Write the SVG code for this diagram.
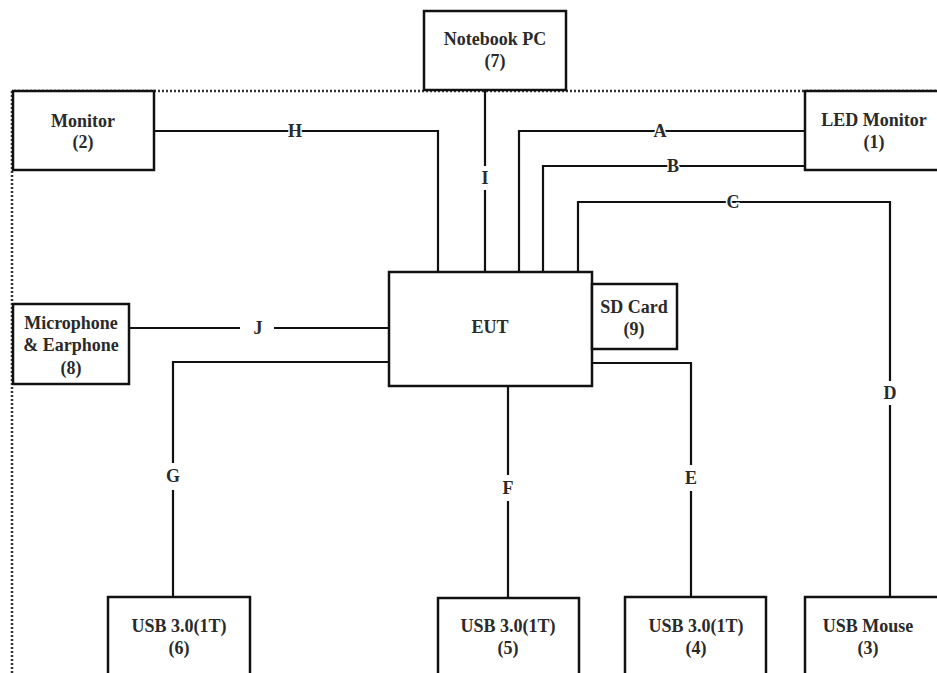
<svg xmlns="http://www.w3.org/2000/svg" width="937" height="673" viewBox="0 0 937 673">
<style>
.box{fill:#fff;stroke:#111;stroke-width:2.5}
.ln{fill:none;stroke:#111;stroke-width:2.2}
.t{font-family:"Liberation Serif","Times New Roman",serif;font-size:18px;font-weight:bold;fill:#2a2a2a;text-anchor:middle}
.lb{font-family:"Liberation Serif","Times New Roman",serif;font-size:18px;font-weight:bold;fill:#2a2a2a;text-anchor:middle;paint-order:stroke;stroke:#fff;stroke-width:3}
.dot{fill:none;stroke:#333;stroke-width:2.5;stroke-dasharray:2 2}
</style>
<rect width="937" height="673" fill="#fff"/>
<g id="border">
<path class="dot" d="M12,673 V91 H937"/>
</g>
<g id="connectors">
<path class="ln" d="M154,131 H438 V272"/>
<path class="ln" d="M485,90 V166 M485,190 V272"/>
<path class="ln" d="M805,131 H519 V272"/>
<path class="ln" d="M805,166 H543 V272"/>
<path class="ln" d="M578,272 V202 H890 V381 M890,405 V597"/>
<path class="ln" d="M129,328 H240 M274,328 H389"/>
<path class="ln" d="M389,362 H173 V463 M173,490 V597"/>
<path class="ln" d="M508,386 V475 M508,501 V598"/>
<path class="ln" d="M592,363 H691 V465 M691,491 V597"/>
<text class="lb" x="295" y="137">H</text>
<text class="lb" x="485" y="184">I</text>
<text class="lb" x="660" y="137">A</text>
<text class="lb" x="673" y="172">B</text>
<text class="lb" x="733" y="208">C</text>
<text class="lb" x="890" y="399">D</text>
<text class="lb" x="258" y="334">J</text>
<text class="lb" x="173" y="482">G</text>
<text class="lb" x="508" y="494">F</text>
<text class="lb" x="691" y="484">E</text>
</g>
<g id="notebook">
<rect class="box" x="424" y="11" width="142" height="79"/>
<text class="t" x="495" y="45">Notebook PC</text>
<text class="t" x="495" y="67">(7)</text>
</g>
<g id="monitor">
<rect class="box" x="13" y="91" width="141" height="79"/>
<text class="t" x="83" y="127">Monitor</text>
<text class="t" x="83" y="148">(2)</text>
</g>
<g id="led-monitor">
<rect class="box" x="805" y="91" width="140" height="79"/>
<text class="t" x="874" y="126">LED Monitor</text>
<text class="t" x="874" y="148">(1)</text>
</g>
<g id="eut">
<rect class="box" x="389" y="272" width="203" height="114"/>
<text class="t" x="490" y="333">EUT</text>
</g>
<g id="sd-card">
<rect class="box" x="592" y="284" width="85" height="65"/>
<text class="t" x="634" y="313">SD Card</text>
<text class="t" x="634" y="335">(9)</text>
</g>
<g id="microphone">
<rect class="box" x="13" y="304" width="116" height="80"/>
<text class="t" x="71" y="329">Microphone</text>
<text class="t" x="71" y="351">&amp; Earphone</text>
<text class="t" x="71" y="374">(8)</text>
</g>
<g id="usb6">
<rect class="box" x="108" y="597" width="142" height="90"/>
<text class="t" x="179" y="632">USB 3.0(1T)</text>
<text class="t" x="179" y="654">(6)</text>
</g>
<g id="usb5">
<rect class="box" x="438" y="598" width="141" height="90"/>
<text class="t" x="508" y="632">USB 3.0(1T)</text>
<text class="t" x="508" y="654">(5)</text>
</g>
<g id="usb4">
<rect class="box" x="625" y="597" width="141" height="90"/>
<text class="t" x="696" y="632">USB 3.0(1T)</text>
<text class="t" x="696" y="654">(4)</text>
</g>
<g id="usb-mouse">
<rect class="box" x="805" y="597" width="140" height="90"/>
<text class="t" x="868" y="632">USB Mouse</text>
<text class="t" x="868" y="654">(3)</text>
</g>
</svg>
